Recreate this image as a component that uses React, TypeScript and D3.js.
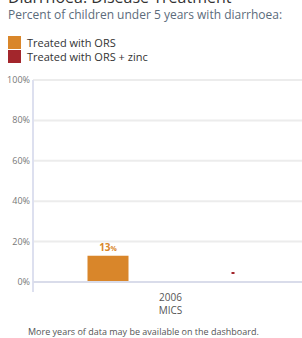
import { useEffect, useRef } from "react";
import * as d3 from "d3";

// chart data
const categories = ["2006\nMICS"];
const seriesNames = ["Treated with ORS", "Treated with ORS + zinc"];
const seriesColors = ["#d9862a", "#a3262c"];
const orsValues = [13];
const zincValues: (number | null)[] = [null];
const yTicks = [0, 20, 40, 60, 80, 100];

function App() {
  const svgRef = useRef<SVGSVGElement>(null);

  useEffect(() => {
    const svg = d3.select(svgRef.current);
    svg.selectAll("*").remove();

    const width = 302;
    const height = 338;
    const margin = { top: 80, right: 0, bottom: 56, left: 33 };
    const font = "'Open Sans', sans-serif";
    const barW = 41;

    // title and subtitle
    svg.append("text")
      .attr("x", 8).attr("y", 3)
      .attr("font-family", font).attr("font-size", 16)
      .attr("fill", "#333")
      .text("Diarrhoea: Disease Treatment");
    svg.append("text")
      .attr("x", 8).attr("y", 19)
      .attr("font-family", font).attr("font-size", 12)
      .attr("fill", "#5b6b7b")
      .text("Percent of children under 5 years with diarrhoea:");

    // legend
    const legend = svg.append("g").attr("transform", "translate(8,36)");
    seriesNames.forEach((name, i) => {
      const g = legend.append("g").attr("transform", `translate(0,${i * 14})`);
      g.append("rect").attr("width", 13).attr("height", 13).attr("fill", seriesColors[i]);
      g.append("text")
        .attr("x", 19).attr("y", 11)
        .attr("font-family", font).attr("font-size", 11)
        .attr("fill", "#333")
        .text(name);
    });

    const chartH = height - margin.top - margin.bottom;

    const y = d3.scaleLinear().domain([0, 100]).range([margin.top + chartH, margin.top]);
    const x = d3.scaleBand().domain(categories).range([margin.left + 3, width + 3]);
    const inner = d3.scalePoint().domain(seriesNames).range([0, x.bandwidth()]).padding(0.576);

    // gridlines
    svg.append("g")
      .selectAll("line")
      .data(yTicks.filter((t) => t > 0))
      .join("line")
      .attr("x1", margin.left).attr("x2", width)
      .attr("y1", (d) => y(d)).attr("y2", (d) => y(d))
      .attr("stroke", "#ececec").attr("stroke-width", 2);

    // y axis labels
    svg.append("g")
      .selectAll("text")
      .data(yTicks)
      .join("text")
      .attr("x", margin.left - 3)
      .attr("y", (d) => y(d) + 3)
      .attr("text-anchor", "end")
      .attr("font-family", font).attr("font-size", 9)
      .attr("fill", "#777")
      .text((d) => `${d}%`);

    // axis lines
    svg.append("line")
      .attr("x1", margin.left).attr("x2", margin.left)
      .attr("y1", y(100)).attr("y2", y(0) + 10)
      .attr("stroke", "#dde0ef").attr("stroke-width", 2);
    svg.append("line")
      .attr("x1", margin.left).attr("x2", width)
      .attr("y1", y(0)).attr("y2", y(0))
      .attr("stroke", "#d9dcea").attr("stroke-width", 2);

    // bars
    const bars = svg.append("g");
    categories.forEach((c, i) => {
      const cx0 = (x(c) ?? 0) + (inner(seriesNames[0]) ?? 0);
      const v = orsValues[i];
      bars.append("rect")
        .attr("x", cx0 - barW / 2).attr("width", barW)
        .attr("y", y(v)).attr("height", y(0) - y(v) - 1)
        .attr("fill", seriesColors[0]);
      const lbl = bars.append("text")
        .attr("x", cx0).attr("y", y(v) - 5)
        .attr("text-anchor", "middle")
        .attr("font-family", font).attr("font-weight", "bold")
        .attr("fill", seriesColors[0]);
      lbl.append("tspan").attr("font-size", 10).text(v);
      lbl.append("tspan").attr("font-size", 7).text("%");

      // zinc: no data marker
      const cx1 = (x(c) ?? 0) + (inner(seriesNames[1]) ?? 0);
      const z = zincValues[i];
      if (z == null) {
        bars.append("rect")
          .attr("x", cx1 - 1.5).attr("width", 3)
          .attr("y", y(0) - 10).attr("height", 2)
          .attr("fill", seriesColors[1]);
      } else {
        bars.append("rect")
          .attr("x", cx1 - barW / 2).attr("width", barW)
          .attr("y", y(z)).attr("height", y(0) - y(z) - 1)
          .attr("fill", seriesColors[1]);
      }

      // category label
      const cl = svg.append("text")
        .attr("text-anchor", "middle")
        .attr("font-family", font).attr("font-size", 10)
        .attr("fill", "#555");
      c.split("\n").forEach((line, j) => {
        cl.append("tspan")
          .attr("x", (x(c) ?? 0) + x.bandwidth() / 2)
          .attr("y", y(0) + 19 + j * 13)
          .text(line);
      });
    });

    // footnote
    svg.append("text")
      .attr("x", 28).attr("y", 335)
      .attr("font-family", font).attr("font-size", 9)
      .attr("fill", "#555")
      .text("More years of data may be available on the dashboard.");
  }, []);

  return (
    <svg
      ref={svgRef}
      width={302}
      height={338}
      style={{ position: "absolute", top: 0, left: 0, background: "#fff" }}
    />
  );
}

export default App;
